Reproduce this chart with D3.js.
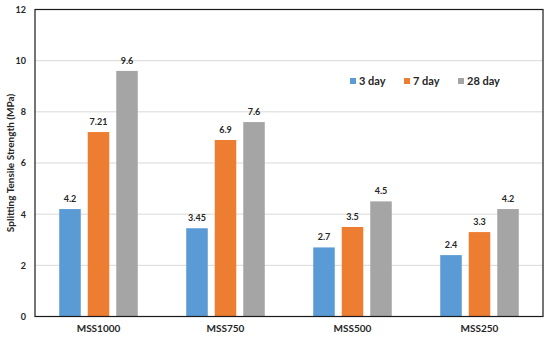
<!DOCTYPE html>
<html>
<head>
<meta charset="utf-8">
<script src="https://cdn.jsdelivr.net/npm/d3@7"></script>
<style>
  body { margin: 0; background: #fff; }
  text { font-family: Lato, "Liberation Sans", sans-serif; font-weight: bold; fill: #262626; }
</style>
</head>
<body>
<div id="chart"></div>
<script>
const categories = ['MSS1000', 'MSS750', 'MSS500', 'MSS250']
const series = ['3 day', '7 day', '28 day']
const day3 = [4.2, 3.45, 2.7, 2.4]
const day7 = [7.21, 6.9, 3.5, 3.3]
const day28 = [9.6, 7.6, 4.5, 4.2]
const valueLabels = [['4.2', '3.45', '2.7', '2.4'], ['7.21', '6.9', '3.5', '3.3'], ['9.6', '7.6', '4.5', '4.2']]
const yTicks = [0, 2, 4, 6, 8, 10, 12]
const colors = ['#5B9BD5', '#ED7D31', '#A5A5A5']

const values = [day3, day7, day28]
const data = []
categories.forEach((c, i) => {
  series.forEach((s, j) => data.push({ cat: c, series: s, value: values[j][i], label: valueLabels[j][i] }))
})

const totalW = 550, totalH = 337
const margin = { top: 9.5, right: 7, bottom: 20.5, left: 35 }
const width = totalW - margin.left - margin.right,
      height = totalH - margin.top - margin.bottom

const svg = d3.select('#chart').append('svg')
  .attr('width', totalW)
  .attr('height', totalH)

const g = svg.append('g').attr('transform', 'translate(' + margin.left + ',' + margin.top + ')')

const x = d3.scaleBand().domain(categories).range([0, width])
const xInner = d3.scaleBand().domain(series).range([0, x.bandwidth()])
  .paddingInner(0.245).paddingOuter(0.85)
const y = d3.scaleLinear().domain([0, 12]).range([height, 0])
const color = d3.scaleOrdinal().domain(series).range(colors)

// gridlines
g.append('g').selectAll('line')
  .data(yTicks.slice(1, -1)).enter()
  .append('line')
  .attr('x1', 0).attr('x2', width)
  .attr('y1', d => y(d)).attr('y2', d => y(d))
  .style('stroke', '#d9d9d9').style('stroke-width', 1)

// bars
g.append('g').selectAll('rect')
  .data(data).enter()
  .append('rect')
  .attr('x', d => x(d.cat) + xInner(d.series))
  .attr('y', d => y(d.value))
  .attr('width', xInner.bandwidth())
  .attr('height', d => height - y(d.value))
  .style('fill', d => color(d.series))

// value labels
g.append('g').selectAll('text')
  .data(data).enter()
  .append('text')
  .attr('x', d => x(d.cat) + xInner(d.series) + xInner.bandwidth() / 2)
  .attr('y', d => y(d.value) - 7)
  .attr('text-anchor', 'middle')
  .style('font-size', '9px')
  .text(d => d.label)

// frame
g.append('rect')
  .attr('width', width).attr('height', height)
  .style('fill', 'none').style('stroke', '#1a1a1a').style('stroke-width', 1.2)

// y axis
const yAxis = d3.axisLeft(y).tickValues(yTicks).tickSize(0).tickPadding(9)
g.append('g').call(yAxis)
  .call(s => s.select('.domain').remove())
  .selectAll('text').style('font-size', '9px').style('font-family', 'Lato, sans-serif')

// x axis
const xAxis = d3.axisBottom(x).tickSize(0).tickPadding(8)
g.append('g').attr('transform', 'translate(0,' + height + ')').call(xAxis)
  .call(s => s.select('.domain').remove())
  .selectAll('text').style('font-size', '10px').style('font-family', 'Lato, sans-serif')

// y title
svg.append('text')
  .attr('transform', 'translate(13.5,' + (margin.top + height / 2) + ') rotate(-90)')
  .attr('text-anchor', 'middle')
  .style('font-size', '10px')
  .text('Splitting Tensile Strength (MPa)')

// legend
const legendX = [350, 404, 458]
const legend = svg.append('g').selectAll('g')
  .data(series).enter()
  .append('g')
  .attr('transform', (d, i) => 'translate(' + legendX[i] + ',81)')
legend.append('rect')
  .attr('x', 0).attr('y', -3).attr('width', 6).attr('height', 6)
  .style('fill', d => color(d))
legend.append('text')
  .attr('x', 9).attr('y', 4)
  .style('font-size', '11px')
  .text(d => d)
</script>
</body>
</html>
